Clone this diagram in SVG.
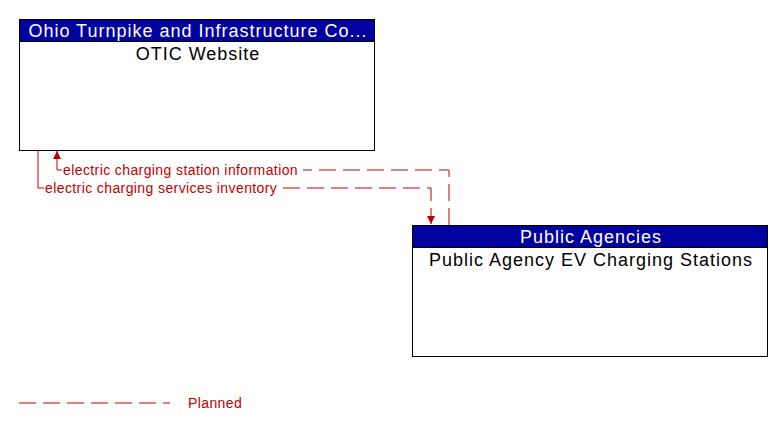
<svg xmlns="http://www.w3.org/2000/svg" width="783" height="431" viewBox="0 0 783 431">
<style>
.box{fill:#fff;stroke:#000;stroke-width:1}
.hdr{fill:#0000a0;stroke:#000;stroke-width:1}
.ht{font-family:"Liberation Sans",Arial,sans-serif;font-size:18px;letter-spacing:1px;fill:#fff;text-anchor:middle}
.bt{font-family:"Liberation Sans",Arial,sans-serif;font-size:18px;letter-spacing:1px;fill:#000;text-anchor:middle}
.flow{fill:none;stroke:#c00000;stroke-width:1;stroke-dasharray:17 7}
.solid{fill:none;stroke:#c00000;stroke-width:1}
.lt{font-family:"Liberation Sans",Arial,sans-serif;font-size:14px;letter-spacing:0.4px;fill:#c00000}
</style>
<defs>
<marker id="arr" viewBox="0 0 8 8" refX="8" refY="4" markerWidth="8" markerHeight="8" markerUnits="userSpaceOnUse" orient="auto">
<path d="M0,0 L8,4 L0,8 z" fill="#c00000"/>
</marker>
</defs>
<rect width="783" height="431" fill="#fff"/>
<g id="connectors">
<path class="flow" d="M449,225 V170 H303"/>
<path class="solid" d="M62,170 H57 V151" marker-end="url(#arr)"/>
<path class="solid" d="M38,150 V188 H44"/>
<path class="flow" d="M283,188 H431 V224" marker-end="url(#arr)"/>
<text class="lt" x="63" y="175">electric charging station information</text>
<text class="lt" x="45" y="193">electric charging services inventory</text>
</g>
<g id="node-otic">
<rect class="box" x="19.5" y="19.5" width="355" height="131"/>
<rect class="hdr" x="19.5" y="19.5" width="355" height="22"/>
<text class="ht" x="198" y="37">Ohio Turnpike and Infrastructure Co...</text>
<text class="bt" x="198" y="60">OTIC Website</text>
</g>
<g id="node-pa">
<rect class="box" x="412.5" y="225.5" width="355" height="131"/>
<rect class="hdr" x="412.5" y="225.5" width="355" height="22"/>
<text class="ht" x="591" y="243">Public Agencies</text>
<text class="bt" x="591" y="266">Public Agency EV Charging Stations</text>
</g>
<g id="legend">
<path class="flow" d="M19,403 H170"/>
<text class="lt" x="188" y="408">Planned</text>
</g>
</svg>
